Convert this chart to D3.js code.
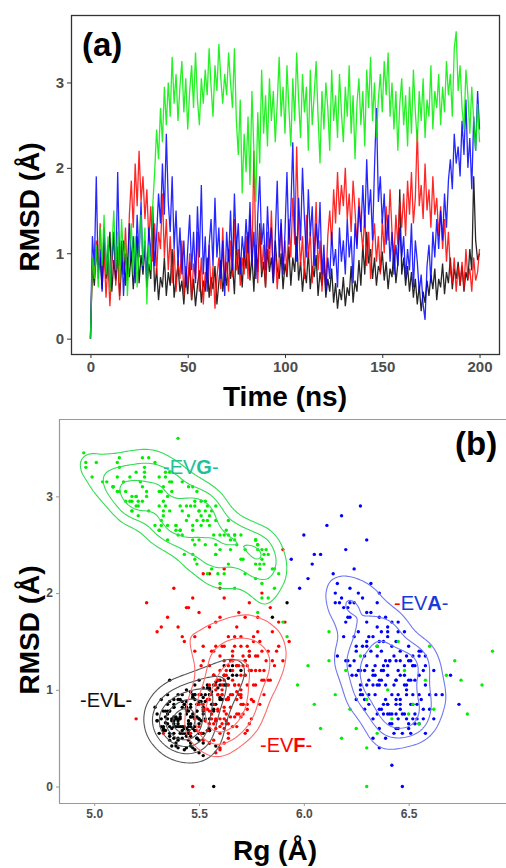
<!DOCTYPE html>
<html lang="en">
<head>
<meta charset="UTF-8">
<title>RMSD and Rg</title>
<script src="https://d3js.org/d3.v7.min.js"></script>
<style>
body { margin: 0; background: #fff; }
svg { display: block; font-family: "Liberation Sans", Arial, sans-serif; }
</style>
</head>
<body>
<svg width="506" height="868"></svg>
<script>
// one frame per ns, 0..200 ns
var timeStep = 1;

var evlRmsd = [0, 0.85, 0.62, 1.05, 0.78, 0.95, 0.58, 1.12, 0.70, 0.88,
  1.25, 0.55, 0.92, 0.68, 1.08, 0.50, 0.85, 1.15, 0.62, 0.95,
  0.72, 1.02, 0.58, 0.90, 1.20, 0.65, 0.98, 0.75, 1.10, 0.60,
  0.88, 0.70, 1.30, 0.55, 0.82, 0.45, 0.72, 0.60, 0.95, 0.50,
  0.78, 0.62, 1.05, 0.48, 0.70, 0.85, 0.55, 0.68, 0.40, 0.75,
  0.52, 0.90, 0.45, 0.70, 0.38, 0.62, 0.80, 0.42, 0.68, 0.55,
  0.95, 0.48, 0.72, 0.58, 0.85, 0.40, 0.66, 0.92, 0.55, 0.78,
  0.62, 1.05, 0.70, 0.88, 0.52, 1.15, 0.75, 0.95, 0.60, 1.02,
  0.82, 1.25, 0.68, 0.98, 0.55, 1.10, 0.78, 1.35, 0.72, 0.90,
  0.60, 1.05, 0.78, 0.95, 0.65, 1.15, 0.82, 0.70, 1.00, 0.58,
  0.88, 0.72, 1.08, 0.62, 0.95, 0.78, 1.20, 0.68, 0.90, 0.55,
  0.82, 0.65, 1.02, 0.58, 0.85, 0.72, 0.98, 0.50, 0.78, 0.62,
  0.90, 0.48, 0.70, 0.55, 0.82, 0.42, 0.65, 0.35, 0.58, 0.45,
  0.72, 0.38, 0.60, 0.50, 0.85, 0.42, 0.68, 0.55, 0.92, 0.62,
  1.10, 0.75, 1.25, 0.88, 1.05, 0.70, 0.95, 0.62, 0.85, 0.78,
  1.02, 0.68, 0.90, 0.58, 0.82, 0.72, 1.05, 0.65, 0.88, 1.75,
  0.75, 0.95, 0.62, 0.85, 0.55, 0.78, 0.48, 0.70, 0.40, 0.62,
  0.32, 0.55, 0.42, 0.68, 0.50, 0.75, 0.58, 0.82, 0.45, 0.70,
  0.60, 0.88, 0.52, 0.78, 0.65, 0.95, 0.58, 0.82, 0.70, 0.90,
  0.62, 0.85, 0.55, 0.78, 0.68, 1.05, 0.80, 1.90, 1.15, 0.92,
  1.00];
var evlRg = [5.57, 5.46, 5.38, 5.60, 5.44, 5.55, 5.33, 5.64, 5.41, 5.50,
  5.68, 5.36, 5.47, 5.30, 5.58, 5.42, 5.35, 5.62, 5.45, 5.40,
  5.38, 5.55, 5.48, 5.32, 5.70, 5.40, 5.46, 5.52, 5.36, 5.44,
  5.42, 5.50, 5.72, 5.38, 5.29, 5.46, 5.34, 5.55, 5.48, 5.40,
  5.45, 5.33, 5.62, 5.50, 5.37, 5.43, 5.31, 5.58, 5.44, 5.35,
  5.46, 5.40, 5.52, 5.32, 5.48, 5.42, 5.57, 5.39, 5.30, 5.50,
  5.53, 5.36, 5.46, 5.55, 5.38, 5.47, 5.34, 5.60, 5.43, 5.49,
  5.40, 5.48, 5.55, 5.36, 5.44, 5.66, 5.30, 5.51, 5.47, 5.59,
  5.44, 5.62, 5.38, 5.56, 5.42, 5.50, 5.33, 5.74, 5.46, 5.41,
  5.37, 5.63, 5.49, 5.35, 5.45, 5.57, 5.52, 5.40, 5.44, 5.48,
  5.53, 5.39, 5.58, 5.43, 5.47, 5.36, 5.65, 5.51, 5.38, 5.45,
  5.42, 5.50, 5.54, 5.34, 5.57, 5.41, 5.46, 5.38, 5.52, 5.32,
  5.48, 5.40, 5.35, 5.52, 5.44, 5.46, 5.38, 5.50, 5.42, 5.55,
  5.47, 5.43, 5.33, 5.49, 5.56, 5.37, 5.45, 5.41, 5.52, 5.36,
  5.60, 5.44, 5.66, 5.50, 5.54, 5.39, 5.48, 5.46, 5.58, 5.34,
  5.52, 5.40, 5.61, 5.45, 5.38, 5.49, 5.57, 5.35, 5.44, 5.85,
  5.47, 5.55, 5.39, 5.43, 5.51, 5.36, 5.45, 5.53, 5.40, 5.48,
  5.52, 5.44, 5.58, 5.37, 5.49, 5.41, 5.55, 5.46, 5.39, 5.50,
  5.43, 5.51, 5.36, 5.57, 5.46, 5.42, 5.54, 5.38, 5.48, 5.60,
  5.41, 5.49, 5.45, 5.35, 5.53, 5.63, 5.44, 5.92, 5.68, 5.47,
  5.55];

var evfRmsd = [0, 0.95, 0.70, 1.15, 0.82, 1.35, 0.65, 1.05, 0.48, 0.90,
  0.38, 0.85, 1.20, 0.62, 0.98, 0.45, 1.10, 0.75, 1.30, 0.68,
  1.45, 1.85, 1.30, 2.05, 1.55, 2.20, 1.60, 1.90, 1.40, 1.75,
  1.15, 1.55, 0.90, 1.35, 0.75, 1.25, 1.05, 1.70, 0.95, 1.40,
  0.80, 1.20, 0.65, 1.05, 0.55, 0.92, 0.70, 1.15, 0.48, 0.85,
  0.62, 1.00, 0.45, 0.88, 0.70, 1.25, 0.55, 0.95, 0.40, 0.78,
  0.65, 1.10, 0.50, 0.85, 0.35, 0.72, 0.95, 0.58, 1.30, 0.68,
  0.90, 0.55, 1.15, 0.72, 1.40, 0.80, 1.05, 0.62, 0.95, 0.75,
  1.20, 0.70, 1.45, 0.85, 2.20, 1.00, 0.65, 1.30, 0.78, 1.10,
  0.60, 1.25, 0.85, 1.50, 0.72, 1.05, 0.58, 0.92, 1.35, 0.80,
  1.15, 0.75, 1.40, 0.95, 1.65, 1.10, 2.25, 1.30, 0.85, 1.20,
  0.70, 1.45, 0.95, 1.25, 0.65, 1.05, 1.60, 0.80, 1.15, 0.55,
  0.95, 0.60, 1.20, 1.50, 1.10, 1.75, 1.35, 1.95, 1.45, 1.80,
  1.55, 2.00, 1.40, 1.70, 1.25, 1.85, 1.50, 1.10, 1.65, 1.30,
  1.05, 1.45, 0.85, 1.25, 0.70, 1.10, 1.35, 0.90, 1.20, 0.75,
  1.40, 1.00, 1.55, 1.15, 1.75, 1.25, 0.95, 1.45, 1.10, 1.60,
  1.30, 1.70, 1.20, 1.85, 1.45, 1.95, 1.35, 1.65, 2.45, 1.55,
  1.80, 1.40, 2.05, 1.50, 1.75, 1.30, 1.90, 1.45, 1.65, 1.20,
  1.55, 1.05, 1.40, 0.90, 1.25, 0.80, 0.65, 0.95, 0.55, 0.85,
  0.62, 0.90, 0.58, 1.05, 0.70, 0.82, 0.55, 0.95, 0.68, 0.78,
  1.05];
var evfRg = [5.47, 5.66, 5.58, 5.72, 5.62, 5.78, 5.55, 5.69, 5.52, 5.64,
  5.60, 5.57, 5.74, 5.50, 5.68, 5.62, 5.59, 5.71, 5.65, 5.53,
  5.58, 5.45, 5.82, 5.38, 5.67, 5.52, 5.30, 5.74, 5.48, 5.60,
  5.70, 5.42, 5.63, 5.77, 5.56, 5.51, 5.73, 5.88, 5.61, 5.66,
  5.59, 5.75, 5.64, 5.55, 5.60, 5.70, 5.48, 5.62, 5.57, 5.73,
  5.66, 5.58, 5.55, 5.76, 5.62, 5.69, 5.51, 5.65, 5.60, 5.55,
  5.57, 5.80, 5.64, 5.52, 5.58, 5.70, 5.61, 5.49, 5.72, 5.63,
  5.68, 5.72, 5.57, 5.65, 5.83, 5.54, 5.77, 5.60, 5.50, 5.69,
  5.63, 5.56, 5.70, 5.79, 5.55, 5.61, 5.74, 5.85, 5.59, 5.66,
  5.62, 5.71, 5.50, 5.93, 5.67, 5.76, 5.54, 5.64, 5.60, 5.73,
  5.57, 5.68, 5.74, 5.59, 5.40, 5.81, 5.62, 5.52, 5.70, 5.66,
  5.75, 5.62, 5.56, 5.86, 5.61, 5.67, 5.78, 5.53, 5.72, 5.64,
  5.69, 5.58, 5.60, 5.76, 5.83, 5.35, 5.71, 5.62, 5.88, 5.50,
  5.64, 5.80, 5.56, 5.91, 5.73, 5.44, 5.79, 5.62, 5.68, 5.90,
  5.58, 5.52, 5.71, 5.64, 5.60, 5.84, 5.66, 5.54, 5.77, 5.63,
  5.80, 5.70, 5.48, 5.63, 5.72, 5.55, 5.81, 5.67, 5.59, 5.85,
  5.66, 5.58, 5.79, 5.84, 5.61, 5.47, 5.74, 5.32, 5.90, 5.76,
  5.69, 5.87, 5.60, 5.43, 5.78, 5.62, 5.25, 5.73, 5.55, 5.81,
  5.70, 5.64, 5.57, 5.75, 5.68, 5.52, 5.63, 5.59, 5.46, 5.71,
  5.68, 5.55, 5.73, 5.61, 5.20, 5.65, 5.33, 5.70, 5.58, 5.62,
  5.67];

var evaRmsd = [0, 1.20, 0.85, 1.90, 0.70, 1.05, 0.55, 1.30, 0.80, 1.10,
  0.60, 0.95, 1.25, 0.70, 1.95, 0.85, 1.15, 0.50, 1.00, 0.75,
  1.35, 0.90, 1.20, 0.65, 1.45, 0.95, 1.60, 0.80, 1.15, 0.70,
  1.30, 0.95, 1.55, 0.85, 1.20, 1.70, 1.35, 2.05, 1.45, 2.40,
  1.60, 1.25, 1.90, 1.05, 1.50, 0.85, 1.30, 0.75, 1.15, 0.60,
  1.05, 1.45, 0.80, 1.25, 0.65, 1.55, 0.95, 1.80, 0.75, 1.20,
  0.55, 1.10, 1.40, 0.85, 1.65, 0.95, 1.30, 0.70, 1.15, 0.50,
  1.25, 0.90, 1.50, 0.80, 1.70, 1.05, 1.35, 0.75, 1.20, 0.95,
  1.40, 1.00, 1.60, 0.85, 1.25, 0.70, 1.45, 1.90, 1.10, 1.35,
  0.80, 1.55, 1.05, 1.30, 0.65, 1.20, 1.85, 0.95, 1.40, 0.75,
  1.25, 1.95, 1.10, 1.50, 2.30, 1.30, 0.90, 1.65, 1.15, 2.00,
  1.40, 0.95, 1.75, 1.20, 1.55, 0.85, 1.35, 1.05, 1.60, 0.75,
  1.10, 0.55, 0.95, 0.70, 1.25, 0.85, 1.05, 0.60, 1.30, 0.90,
  1.15, 0.75, 1.40, 0.95, 1.20, 0.65, 1.35, 1.05, 1.55, 1.25,
  1.80, 1.30, 2.10, 1.45, 1.75, 1.15, 2.00, 2.70, 1.60, 1.90,
  1.35, 1.70, 1.10, 1.45, 0.90, 1.25, 0.75, 1.10, 0.85, 1.30,
  0.95, 1.20, 0.70, 1.05, 0.80, 1.35, 0.60, 1.15, 0.90, 0.55,
  0.75, 0.40, 0.22, 0.85, 1.10, 0.65, 1.25, 0.95, 1.40, 1.05,
  1.50, 1.15, 1.70, 1.30, 1.85, 2.10, 1.75, 2.40, 2.05, 2.25,
  1.90, 2.55, 2.15, 2.80, 2.00, 2.35, 1.75, 2.60, 2.20, 2.90,
  2.45];
var evaRg = [6.47, 6.38, 6.52, 6.22, 6.45, 6.33, 6.58, 6.41, 6.36, 6.50,
  6.44, 6.55, 6.30, 6.62, 6.18, 6.40, 6.48, 6.39, 6.27, 6.53,
  6.35, 6.46, 6.57, 6.42, 6.25, 6.34, 6.40, 6.60, 6.23, 6.49,
  6.44, 6.28, 6.33, 6.51, 6.37, 6.20, 6.49, 6.22, 6.30, 6.05,
  6.26, 6.52, 6.15, 6.43, 6.38, 6.31, 6.24, 6.47, 6.55, 6.36,
  6.58, 6.42, 6.29, 6.34, 6.50, 6.19, 6.45, 6.30, 6.41, 6.27,
  6.43, 6.36, 6.55, 6.46, 6.35, 6.60, 6.21, 6.52, 6.40, 6.33,
  6.48, 6.25, 6.30, 6.57, 6.42, 6.39, 6.16, 6.44, 6.62, 6.31,
  6.37, 6.49, 6.45, 6.40, 6.22, 6.54, 6.28, 6.35, 6.44, 6.58,
  6.46, 6.24, 6.36, 6.50, 6.41, 6.29, 6.21, 6.63, 6.46, 6.35,
  6.40, 6.28, 6.51, 6.36, 6.04, 6.20, 6.44, 6.40, 6.33, 6.15,
  6.25, 6.52, 6.36, 6.45, 6.31, 6.38, 6.55, 6.27, 6.48, 6.42,
  6.37, 6.47, 6.66, 6.33, 6.52, 6.44, 6.30, 6.50, 6.39, 6.56,
  6.46, 6.38, 6.32, 6.49, 6.26, 6.55, 6.43, 6.35, 6.40, 6.53,
  6.32, 6.41, 6.16, 6.50, 6.22, 6.34, 6.26, 6.11, 6.37, 6.17,
  6.29, 6.45, 6.53, 6.35, 6.39, 6.58, 6.48, 6.31, 6.54, 6.46,
  6.42, 6.33, 6.57, 6.48, 6.37, 6.52, 6.45, 6.70, 6.29, 6.51,
  6.40, 6.36, 6.42, 6.74, 6.44, 6.53, 6.38, 6.27, 6.56, 6.49,
  6.44, 6.25, 6.30, 6.51, 6.19, 6.32, 6.39, 6.08, 5.98, 6.24,
  6.24, 6.30, 6.02, 6.18, 6.36, 5.94, 6.21, 6.00, 6.14, 6.27,
  6.20];

var evgRmsd = [0, 0.95, 0.70, 1.10, 0.60, 1.30, 0.85, 1.45, 0.75, 1.20,
  0.55, 1.05, 1.50, 0.80, 1.25, 0.65, 1.40, 0.90, 1.15, 0.50,
  1.00, 1.35, 0.75, 1.20, 0.60, 1.05, 1.45, 0.85, 1.30, 0.40,
  1.10, 0.80, 1.55, 1.95, 2.45, 2.10, 2.70, 2.30, 2.95, 2.50,
  3.00, 2.60, 3.30, 2.75, 3.10, 2.55, 2.95, 3.25, 2.65, 3.05,
  2.45, 2.90, 3.20, 2.70, 3.35, 2.80, 2.50, 3.05, 2.75, 3.15,
  2.85, 3.40, 2.95, 2.60, 3.20, 2.90, 3.45, 3.05, 2.75, 3.10,
  2.85, 3.35, 3.00, 2.70, 3.40, 2.55, 2.15, 2.80, 1.70, 2.40,
  1.95, 2.60, 1.80, 2.90, 2.20, 1.60, 2.65, 2.05, 3.15, 2.40,
  2.85, 2.25, 3.05, 2.55, 2.90, 2.30, 2.75, 3.30, 2.60, 2.95,
  2.40, 3.20, 2.70, 2.25, 3.05, 2.55, 3.35, 2.80, 2.35, 3.10,
  2.65, 2.95, 2.20, 3.15, 2.50, 2.85, 3.25, 2.60, 2.05, 2.90,
  2.45, 3.00, 2.70, 2.20, 3.15, 2.55, 2.85, 2.35, 3.10, 2.65,
  2.30, 2.95, 2.60, 3.20, 2.40, 2.85, 2.10, 2.75, 3.05, 2.50,
  2.90, 2.25, 3.15, 2.70, 3.30, 2.55, 3.00, 2.35, 2.80, 3.10,
  2.65, 3.25, 2.85, 3.35, 2.60, 3.00, 2.45, 2.90, 2.20, 2.75,
  3.05, 2.50, 2.85, 2.25, 2.95, 2.40, 3.15, 2.65, 2.30, 2.90,
  2.55, 3.05, 2.35, 2.80, 2.60, 3.20, 2.45, 2.90, 2.70, 3.10,
  2.50, 2.95, 2.65, 3.25, 2.85, 3.10, 2.60, 3.40, 3.60, 2.90,
  3.20, 2.70, 2.45, 3.15, 2.85, 2.40, 2.95, 2.55, 2.20, 2.75,
  2.30];
var evgRg = [6.30, 6.15, 6.42, 6.58, 6.25, 6.72, 6.05, 6.60, 6.50, 6.20,
  6.35, 6.85, 6.45, 6.62, 6.02, 6.55, 6.90, 6.30, 6.68, 6.18,
  6.40, 6.27, 6.78, 6.48, 6.08, 5.97, 6.35, 6.52, 6.12, 6.30,
  6.75, 6.22, 5.92, 5.80, 5.78, 5.60, 5.47, 5.79, 5.21, 5.78,
  5.25, 5.67, 4.96, 5.52, 5.23, 5.77, 5.23, 5.20, 5.63, 5.11,
  5.72, 5.21, 5.24, 5.39, 5.29, 5.21, 5.58, 5.37, 5.32, 5.42,
  5.33, 5.23, 5.15, 5.60, 5.17, 5.58, 4.95, 5.31, 5.58, 5.09,
  5.50, 4.96, 5.35, 5.39, 5.26, 5.35, 5.77, 5.51, 5.90, 5.83,
  5.83, 5.67, 5.78, 5.44, 5.72, 6.12, 5.39, 5.86, 5.36, 5.47,
  5.50, 5.56, 5.32, 5.47, 5.54, 5.49, 5.44, 5.24, 5.40, 5.53,
  5.58, 5.34, 5.29, 5.79, 5.25, 5.77, 5.01, 5.45, 5.80, 5.09,
  5.41, 5.51, 5.54, 5.22, 5.68, 5.26, 5.36, 5.64, 5.67, 5.41,
  5.82, 5.20, 5.51, 5.88, 5.06, 5.50, 5.53, 5.48, 5.33, 5.47,
  5.81, 5.18, 5.57, 5.11, 5.81, 5.18, 5.80, 5.54, 5.15, 5.78,
  5.31, 5.86, 5.04, 5.55, 5.12, 5.77, 5.20, 5.70, 5.55, 5.09,
  5.41, 5.34, 5.18, 5.11, 5.62, 5.18, 5.80, 5.48, 5.59, 5.49,
  5.49, 5.48, 5.42, 5.85, 5.17, 5.58, 5.37, 5.31, 5.77, 5.34,
  5.67, 5.12, 5.71, 5.33, 5.70, 4.99, 5.60, 5.46, 5.35, 5.45,
  5.53, 5.48, 5.31, 5.24, 5.36, 5.47, 5.42, 5.12, 5.40, 5.20,
  5.31, 5.32, 5.65, 5.14, 5.56, 5.43, 5.33, 5.65, 5.62, 5.64,
  5.64];

var timeTicks = [0, 50, 100, 150, 200];
var rmsdTicks = [0, 1, 2, 3];
var rgTicks = [5.0, 5.5, 6.0, 6.5];

var series = [
  { name: 'EVL', rmsd: evlRmsd, rg: evlRg, color: '#000000', contour: '#555555', levels: [0.12, 0.3, 0.5, 0.7, 0.88] },
  { name: 'EVF', rmsd: evfRmsd, rg: evfRg, color: '#ff0000', contour: '#ff6b6b', levels: [0.17, 0.4, 0.7] },
  { name: 'EVA', rmsd: evaRmsd, rg: evaRg, color: '#0000ff', contour: '#6f78f0', levels: [0.18, 0.42, 0.7] },
  { name: 'EVG', rmsd: evgRmsd, rg: evgRg, color: '#00ee00', contour: '#33dd55', levels: [0.18, 0.42, 0.72] }
];

var svg = d3.select('svg');
var tickGrey = '#4d4d4d';

// ---------- panel (a): RMSD vs time ----------
var xa = d3.scaleLinear().domain([-10, 210]).range([71, 499]);
var ya = d3.scaleLinear().domain([-0.18, 3.79]).range([354, 15]);

var ga = svg.append('g');
var line = d3.line()
  .x(function(d, i) { return xa(i * timeStep); })
  .y(function(d) { return ya(d); });

series.forEach(function(s) {
  ga.append('path')
    .datum(s.rmsd)
    .attr('d', line)
    .attr('fill', 'none')
    .attr('stroke', s.color)
    .attr('stroke-opacity', 0.85)
    .attr('stroke-width', 1.3);
});

ga.append('rect')
  .attr('x', 71.5).attr('y', 15.5)
  .attr('width', 428).attr('height', 339)
  .attr('fill', 'none').attr('stroke', '#333').attr('stroke-width', 1.3);

var axA = ga.append('g').attr('transform', 'translate(71,0)')
  .call(d3.axisLeft(ya).tickValues(rmsdTicks).tickFormat(d3.format('d')).tickSize(4).tickPadding(3));
var axAx = ga.append('g').attr('transform', 'translate(0,354)')
  .call(d3.axisBottom(xa).tickValues(timeTicks).tickFormat(d3.format('d')).tickSize(4).tickPadding(3));
[axA, axAx].forEach(function(a) {
  a.select('.domain').remove();
  a.selectAll('line').attr('stroke', '#333');
  a.selectAll('text').attr('fill', tickGrey).attr('font-size', 15)
    .attr('font-weight', 'bold').attr('font-family', '"Liberation Sans", Arial, sans-serif');
});

ga.append('text').attr('x', 82).attr('y', 56)
  .attr('font-size', 33).attr('font-weight', 'bold').text('(a)');
ga.append('text').attr('x', 285).attr('y', 406).attr('text-anchor', 'middle')
  .attr('font-size', 28).attr('font-weight', 'bold').text('Time (ns)');
ga.append('text').attr('transform', 'translate(39,207) rotate(-90)')
  .attr('text-anchor', 'middle').attr('font-size', 28).attr('font-weight', 'bold')
  .text('RMSD (Å)');

// ---------- panel (b): RMSD vs Rg ----------
var xb = d3.scaleLinear().domain([4.832, 6.974]).range([59, 508]);
var yb = d3.scaleLinear().domain([-0.17, 3.80]).range([803, 419]);

var gb = svg.append('g');
gb.append('line').attr('x1', 59).attr('x2', 506).attr('y1', 419.5).attr('y2', 419.5)
  .attr('stroke', '#999').attr('stroke-width', 1.2);

var drawOrder = [2, 0, 1, 3];
drawOrder.forEach(function(k) {
  var s = series[k];
  gb.append('g').selectAll('circle')
    .data(s.rmsd)
    .enter().append('circle')
    .attr('cx', function(d, i) { return xb(s.rg[i]); })
    .attr('cy', function(d) { return yb(d); })
    .attr('r', 1.7)
    .attr('fill', s.color);
});

series.forEach(function(s) {
  var pts = s.rmsd.map(function(d, i) { return [s.rg[i], d]; });
  var density = d3.contourDensity()
    .x(function(d) { return xb(d[0]); })
    .y(function(d) { return yb(d[1]); })
    .size([506, 868]).cellSize(2).bandwidth(12);
  var polys;
  if (density.contours) {
    var cf = density.contours(pts);
    polys = s.levels.map(function(f) { return cf(f * cf.max); });
  } else {
    var all = density.thresholds(100)(pts);
    var mx = d3.max(all, function(c) { return c.value; });
    polys = density.thresholds(s.levels.map(function(f) { return f * mx; }))(pts);
  }
  gb.append('g').selectAll('path')
    .data(polys)
    .enter().append('path')
    .attr('d', d3.geoPath())
    .attr('fill', 'none')
    .attr('stroke', s.contour)
    .attr('stroke-width', 1.1);
});

var axB = gb.append('g').attr('transform', 'translate(59,0)')
  .call(d3.axisLeft(yb).tickValues(rmsdTicks).tickFormat(d3.format('d')).tickSize(3).tickPadding(3));
var axBx = gb.append('g').attr('transform', 'translate(0,803)')
  .call(d3.axisBottom(xb).tickValues(rgTicks).tickFormat(d3.format('.1f')).tickSize(3).tickPadding(3));
[axB, axBx].forEach(function(a) {
  a.select('.domain').attr('stroke', '#999').attr('stroke-width', 1.2);
  a.selectAll('line').attr('stroke', '#999');
  a.selectAll('text').attr('fill', tickGrey).attr('font-size', 12)
    .attr('font-weight', 'bold').attr('font-family', '"Liberation Sans", Arial, sans-serif');
});
axB.select('.domain').attr('d', 'M0.5,419V803.5');
axBx.select('.domain').attr('d', 'M59,0.5H506');

gb.append('text').attr('x', 455).attr('y', 455)
  .attr('font-size', 33).attr('font-weight', 'bold').text('(b)');
gb.append('text').attr('x', 275).attr('y', 860).attr('text-anchor', 'middle')
  .attr('font-size', 28).attr('font-weight', 'bold').text('Rg (Å)');
gb.append('text').attr('transform', 'translate(39,630) rotate(-90)')
  .attr('text-anchor', 'middle').attr('font-size', 28).attr('font-weight', 'bold')
  .text('RMSD (Å)');

// peptide labels, bold residue letter
function label(x, y, parts) {
  var t = gb.append('text').attr('x', x).attr('y', y).attr('font-size', 20);
  parts.forEach(function(p) {
    t.append('tspan').attr('fill', p[1]).attr('font-weight', p[2] ? 'bold' : 'normal').text(p[0]);
  });
}
label(163, 474, [['-EV', '#1fbf98'], ['G', '#1fbf98', true], ['-', '#1fbf98']]);
label(394, 610, [['-', '#ff0000'], ['EV', '#1a3ad8'], ['A', '#1a3ad8', true], ['-', '#1a3ad8']]);
label(80, 707, [['-EV', '#111'], ['L', '#111', true], ['-', '#111']]);
label(260, 752, [['-EV', '#ff0000'], ['F', '#ff0000', true], ['-', '#ff0000']]);
</script>
</body>
</html>
